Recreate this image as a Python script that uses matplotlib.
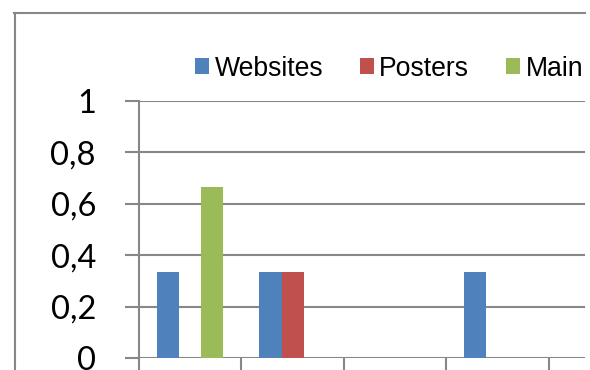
import numpy as np
import matplotlib.pyplot as plt
from matplotlib.lines import Line2D

# data
categories = ['A', 'B', 'C', 'D']
websites = [1/3, 1/3, 0, 1/3]
posters = [0, 1/3, 0, 0]
main = [2/3, 0, 0, 0]
yticks = [0, 0.2, 0.4, 0.6, 0.8, 1]
ytick_labels = ['0', '0,2', '0,4', '0,6', '0,8', '1']

blue = '#4F81BD'
red = '#C0504D'
green = '#9BBB59'
grey = '#878787'

fig = plt.figure(figsize=(5.9, 3.7), dpi=100)
ax = fig.add_axes([139/590, 12/370, (585-139)/590, (358-101)/370])

x = np.arange(len(categories))
w = 0.216
ax.bar(x - w, websites, w, color=blue, label='Websites')
ax.bar(x, posters, w, color=red, label='Posters')
ax.bar(x + w, main, w, color=green, label='Main')

ax.set_yticks(yticks)
ax.set_yticklabels(ytick_labels, family=['Lato', 'DejaVu Sans'], fontsize=23.5)
ax.set_xticks(np.arange(-0.5, 4.6, 1))
ax.set_xticklabels([])
ax.set_ylim(0, 1)
ax.set_xlim(-0.5, 3.855)
ax.tick_params(axis='y', length=10, width=1.5, color=grey, pad=21)
ax.tick_params(axis='x', length=10, width=1.5, color=grey)
ax.yaxis.grid(True, color=grey, linewidth=1.5)
ax.set_axisbelow(True)
for s in ['top', 'right', 'bottom']:
    ax.spines[s].set_visible(False)
ax.spines['left'].set_color(grey)
ax.spines['left'].set_linewidth(1.5)

ax.legend(loc='center left', bbox_to_anchor=(195/590, 1 - 68.5/370),
          bbox_transform=fig.transFigure, ncol=3, frameon=False,
          prop={'family': 'Liberation Sans', 'size': 19.2},
          handlelength=0.53, handleheight=0.53, handletextpad=0.2,
          columnspacing=1.38, borderpad=0, borderaxespad=0)

# outer chart frame (cropped)
fig.add_artist(Line2D([14.5/590, 14.5/590], [0, 1 - 12.5/370], color=grey, lw=1.5))
fig.add_artist(Line2D([14/590, 585/590], [1 - 12.5/370, 1 - 12.5/370], color=grey, lw=1.5))

fig.savefig('out.png', dpi=100)
